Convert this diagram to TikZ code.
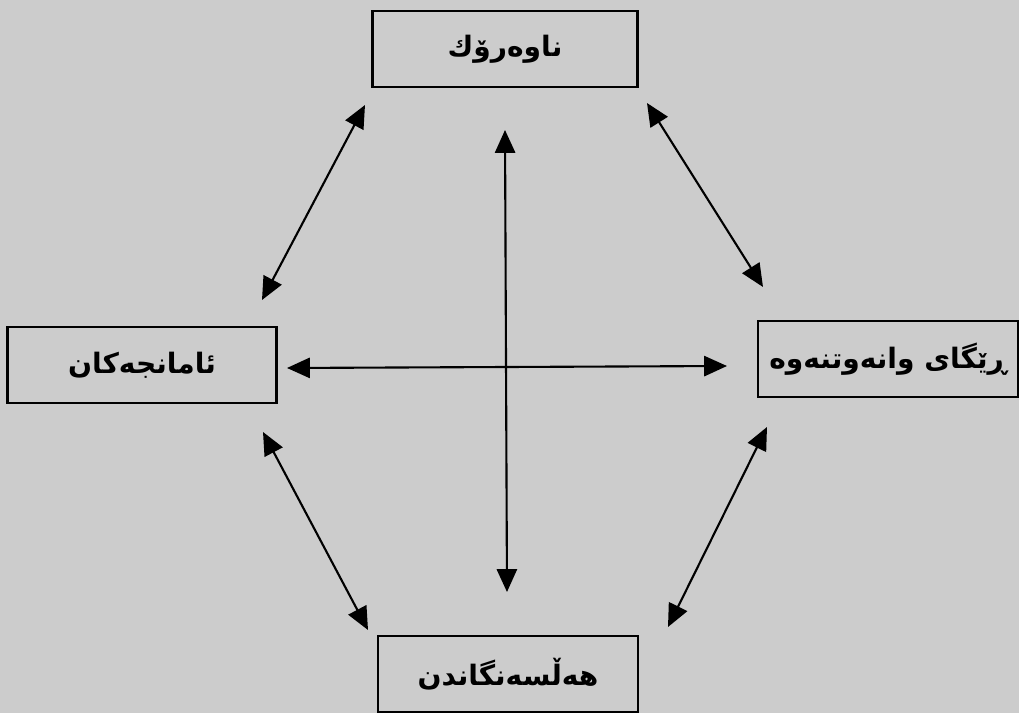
\documentclass[tikz,border=0pt]{standalone}
\usepackage{fontspec}
\newfontfamily\arabicfont[Script=Arabic]{DejaVu Sans}
\TeXXeTstate=1
\usetikzlibrary{arrows.meta,positioning}
\definecolor{paper}{RGB}{204,204,204}
\tikzset{
  box/.style={draw, line width=1.3pt, fill=paper, minimum height=1.52cm, inner sep=0pt,
    font=\arabicfont\bfseries\fontsize{16}{19}\selectfont},
  link/.style={{Triangle[length=13pt,width=11.5pt]}-{Triangle[length=13pt,width=11.5pt]}, line width=1.2pt}
}
\begin{document}
\begin{tikzpicture}[x=0.02cm,y=-0.02cm]
\fill[paper] (0,0) rectangle (1019,713);
\useasboundingbox (0,0) rectangle (1019,713);

\node[box, minimum width=5.3cm]  (content) at (505,49)  {\beginR ناوەرۆك\endR};
\node[box, minimum width=5.38cm] (aims)    at (142,365) {\beginR ئامانجەكان\endR};
\node[box, minimum width=5.2cm]  (method)  at (888,359) {\beginR ڕێگای وانەوتنەوە\endR};
\node[box, minimum width=5.2cm]  (assess)  at (508,674) {\beginR هەڵسەنگاندن\endR};

% free ends of the links
\coordinate (ul-a) at (262,300); \coordinate (ul-b) at (365,105);
\coordinate (ur-a) at (647,103); \coordinate (ur-b) at (763,287);
\coordinate (ll-a) at (263,432); \coordinate (ll-b) at (368,630);
\coordinate (lr-a) at (767,427); \coordinate (lr-b) at (668,627);
\coordinate (v-a) at (505,130);  \coordinate (v-b) at (507,592);
\coordinate (h-a) at (287,368);  \coordinate (h-b) at (727,366);

\draw[link] (ul-a) -- (ul-b);
\draw[link] (ur-a) -- (ur-b);
\draw[link] (ll-a) -- (ll-b);
\draw[link] (lr-a) -- (lr-b);
\draw[link] (v-a) -- (v-b);
\draw[link] (h-a) -- (h-b);
\end{tikzpicture}
\end{document}
